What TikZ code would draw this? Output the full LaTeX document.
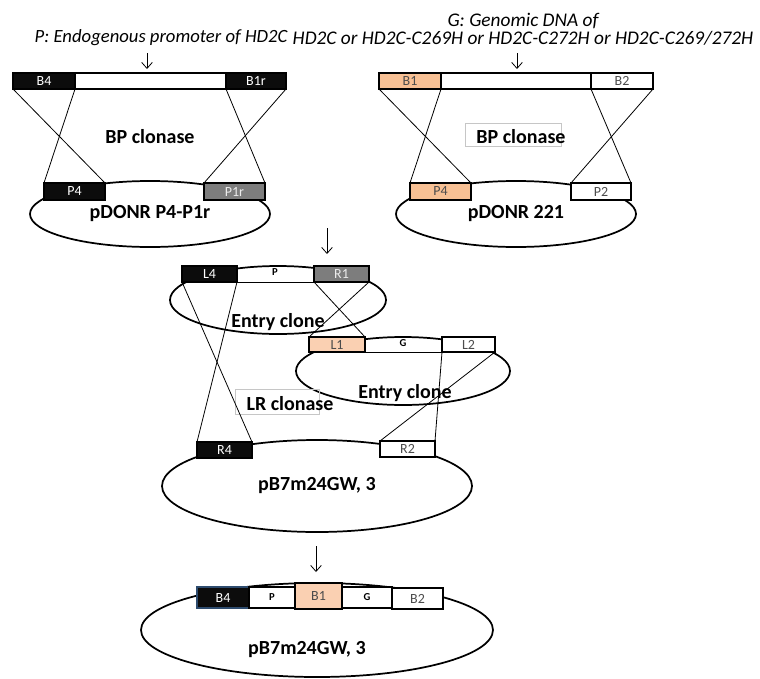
\documentclass[tikz,border=0pt]{standalone}
\usepackage{fontspec}
\setmainfont{Carlito}
\usetikzlibrary{arrows.meta,positioning,shapes.geometric}
\definecolor{segblack}{RGB}{12,12,12}
\definecolor{seggray}{RGB}{125,125,125}
\definecolor{segpeach}{RGB}{247,192,148}
\definecolor{segpeachlt}{RGB}{250,208,178}
\definecolor{segedge}{RGB}{45,75,110}
\tikzset{
  sz/.style 2 args={minimum width={#1*0.75pt}, minimum height={#2*0.75pt}},
  seg/.style={draw, line width=1.1pt, inner sep=0pt, outer sep=0pt,
    font=\fontsize{10.5}{11}\selectfont, text=black!70},
  segdark/.style={seg, fill=segblack, text=white},
  seggrey/.style={seg, fill=seggray, text=white!85!gray},
  segorange/.style={seg, fill=segpeach},
  segpale/.style={seg, fill=segpeachlt},
  segwhite/.style={seg, fill=white},
  plasmid/.style={draw, ellipse, line width=1.3pt, inner sep=0pt},
  crossln/.style={line width=0.6pt},
  stepln/.style={-{Straight Barb[length=4.5pt,width=8pt]}, line width=0.6pt},
  hdtext/.style={font=\fontsize{14}{13.5}\selectfont\itshape},
  lbltext/.style={font=\fontsize{15}{16}\selectfont\bfseries},
  striptext/.style={font=\fontsize{8}{9}\selectfont\bfseries},
  enzbox/.style={draw=gray!45, line width=0.6pt, inner sep=0pt},
}
\begin{document}
\begin{tikzpicture}[x=0.75pt, y=-0.75pt]
  \useasboundingbox (0,0) rectangle (760,678);
  % headings
  \node[hdtext] (hdP) at (161,38) {P: Endogenous promoter of HD2C};
  \node[hdtext, font=\fontsize{14.5}{13.5}\selectfont\itshape, align=center] (hdG) at (523,29)
    {G: Genomic DNA of\\HD2C or HD2C-C269H or HD2C-C272H or HD2C-C269/272H};
  % donor vectors
  \node[plasmid, lbltext, sz={240}{66}] (dnrL) at (150,214) {pDONR P4-P1r};
  \node[plasmid, lbltext, sz={240}{66}] (dnrR) at (516,214) {pDONR 221};
  % attB fragment, promoter
  \node[segdark, sz={62}{16}] (b4L) at (44,81) {B4};
  \node[segwhite, sz={151}{16}] (midL) at (150.5,81) {};
  \node[segdark, sz={60}{16}] (b1rL) at (256,81) {B1r};
  \node[segdark, sz={61}{17}] (p4L) at (74.5,191.5) {P4};
  \node[seggrey, sz={61}{17}] (p1rL) at (234.5,191.5) {P1r};
  % attB fragment, genomic
  \node[segorange, sz={62}{16}] (b1R) at (410,81) {B1};
  \node[segwhite, sz={150}{16}] (midR) at (516,81) {};
  \node[segwhite, sz={62}{16}] (b2R) at (622,81) {B2};
  \node[segorange, sz={61}{17}] (p4R) at (440.5,191.5) {P4};
  \node[segwhite, sz={60}{17}] (p2R) at (601,191.5) {P2};
  % BP recombination
  \node[lbltext] (bpL) at (150,137) {BP clonase};
  \node[enzbox, sz={96}{23}] (bpboxR) at (513,134.5) {};
  \node[lbltext] (bpR) at (521,137) {BP clonase};
  \foreach \u/\v in {b4L/p4L, b1rL/p1rL, b1R/p4R, b2R/p2R} {
    \draw[crossln] (\u.south west) -- (\v.north east);
    \draw[crossln] (\u.south east) -- (\v.north west);
  }
  % arrows
  \coordinate (arrPs) at (147,53);  \coordinate (arrPe) at (147,69);
  \coordinate (arrGs) at (517,53);  \coordinate (arrGe) at (517,69);
  \coordinate (arrEs) at (327,228); \coordinate (arrEe) at (327,254);
  \coordinate (arrXs) at (316,546); \coordinate (arrXe) at (316,572);
  \foreach \s/\e in {arrPs/arrPe, arrGs/arrGe, arrEs/arrEe, arrXs/arrXe}
    \draw[stepln] (\s) -- (\e);
  % entry clones and destination vector
  \node[plasmid, sz={216}{68}] (entP) at (278,300) {};
  \node[lbltext] (entPlbl) at (278,322) {Entry clone};
  \node[plasmid, sz={214}{68}] (entG) at (403,371) {};
  \node[lbltext] (entGlbl) at (405,393) {Entry clone};
  \node[plasmid, lbltext, sz={310}{92}] (dest) at (317,486) {pB7m24GW, 3};
  \node[segdark, sz={55}{16}] (l4) at (209.5,274) {L4};
  \node[seggrey, sz={55}{16}] (r1) at (341.5,274) {R1};
  \node[striptext] (pstrip) at (275,272) {P};
  \draw[crossln] (l4.south east) -- (r1.south west);
  \node[segpale, sz={56}{15}] (l1) at (337,344.5) {L1};
  \node[segwhite, sz={53}{15}] (l2) at (468.5,344.5) {L2};
  \node[striptext] (gstrip) at (403,343) {G};
  \draw[crossln] (l1.south east) -- (l2.south west);
  \node[segdark, sz={55}{16}] (r4) at (224.5,450) {R4};
  \node[segwhite, sz={55}{16}] (r2) at (407.5,449) {R2};
  % LR recombination
  \node[enzbox, sz={84}{25}] (lrbox) at (277,401.5) {};
  \node[lbltext] (lr) at (290,404) {LR clonase};
  \foreach \u/\v in {l4/r4, r1/l1, l2/r2} {
    \draw[crossln] (\u.south west) -- (\v.north east);
    \draw[crossln] (\u.south east) -- (\v.north west);
  }
  % expression clone
  \node[plasmid, sz={352}{94}] (expr) at (317,630) {};
  \node[lbltext] (exprlbl) at (307,650) {pB7m24GW, 3};
  \node[segdark, draw=segedge, sz={52}{21}] (b4) at (223,597.5) {B4};
  \node[segwhite, striptext, text=black, sz={46}{21}] (pB) at (272,597.5) {P};
  \node[segpale, sz={47}{26}] (b1) at (318.5,596) {B1};
  \node[segwhite, striptext, text=black, sz={50}{21}] (gB) at (367,597.5) {G};
  \node[segwhite, sz={51}{21}] (b2) at (417.5,598.5) {B2};
\end{tikzpicture}
\end{document}
